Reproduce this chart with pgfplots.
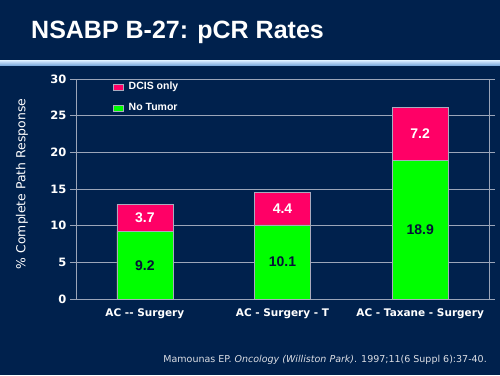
\documentclass[border=0pt]{standalone}
\usepackage{fontspec}
\setmainfont{Liberation Sans}
\newfontfamily\dejavu{DejaVu Sans}
\usepackage{pgfplots}
\pgfplotsset{compat=1.18}
\definecolor{navy}{RGB}{0,33,77}
\definecolor{pinkbar}{RGB}{255,0,102}
\definecolor{greenbar}{RGB}{0,255,0}
\definecolor{gridc}{RGB}{155,165,185}
\definecolor{barline}{RGB}{170,170,190}
\definecolor{darktext}{RGB}{5,18,55}
\definecolor{citec}{RGB}{220,222,228}
\pgfplotsset{sqlegend/.style={legend image code/.code={\draw[#1, draw=barline, line width=0.5pt] (0pt,-3pt) rectangle (10pt,3pt);}}}
\begin{document}
\begin{tikzpicture}
\fill[navy] (0pt,0pt) rectangle (500pt,375pt);
\useasboundingbox (0pt,0pt) rectangle (500pt,375pt);
\shade[top color={rgb,255:red,205;green,228;blue,252}, bottom color={rgb,255:red,110;green,160;blue,215}] (0pt,309pt) rectangle (500pt,314pt);
\node[anchor=base west, font=\bfseries\fontsize{25}{30}\selectfont, text=white, inner sep=0pt] at (31pt,336pt) {NSABP B-27: pCR Rates};
\begin{axis}[
  at={(76pt,76pt)}, anchor=south west,
  scale only axis, width=413pt, height=220pt,
  xmin=-0.5, xmax=2.5, ymin=0, ymax=30,
  ytick={0,5,...,30},
  xtick=\empty,
  minor xtick={-0.5,0.5,1.5,2.5},
  extra x ticks={0,1,2},
  extra x tick labels={AC -- Surgery, AC - Surgery - T, AC - Taxane - Surgery},
  extra x tick style={major tick length=0pt, grid=none},
  ymajorgrids, xmajorgrids=false, xminorgrids=false,
  grid style={gridc, line width=0.7pt},
  axis line style={gridc, line width=0.7pt},
  tick style={gridc, line width=0.7pt},
  tick align=outside,
  major tick length=6pt,
  minor tick length=3pt,
  /pgf/number format/assume math mode=true,
  yticklabel style={font=\dejavu\bfseries\fontsize{11.5}{13}\selectfont, text=white},
  xticklabel style={font=\dejavu\bfseries\fontsize{10.5}{12}\selectfont, text=white, yshift=-6pt},
  ylabel={\% Complete Path Response},
  ylabel style={at={(axis description cs:-0.1308,0.523)}, anchor=center, font=\dejavu\fontsize{12.4}{14}\selectfont, text=white},
  legend style={at={(rel axis cs:0.0896,0.995)}, anchor=north west, draw=none, fill=none, text=white,
    font=\bfseries\fontsize{10.5}{12}\selectfont, inner sep=0pt, row sep=8pt, cells={anchor=west},
    /tikz/every odd column/.append style={column sep=3pt}},
]
\addplot[ybar, bar width=56pt, bar shift=0pt, fill=pinkbar, draw=barline, line width=0.5pt, sqlegend]
  coordinates {(0,12.9) (1,14.5) (2,26.1)};
\addlegendentry{DCIS only}
\addplot[ybar, bar width=56pt, bar shift=0pt, fill=greenbar, draw=barline, line width=0.5pt, sqlegend]
  coordinates {(0,9.2) (1,10.1) (2,18.9)};
\addlegendentry{No Tumor}
\addplot[draw=none, mark=none, forget plot, nodes near coords, point meta=explicit symbolic,
  every node near coord/.append style={anchor=center, font=\bfseries\fontsize{14}{16}\selectfont, text=darktext}]
  coordinates {(0,4.6)[9.2] (1,5.05)[10.1] (2,9.45)[18.9]};
\addplot[draw=none, mark=none, forget plot, nodes near coords, point meta=explicit symbolic,
  every node near coord/.append style={anchor=center, font=\bfseries\fontsize{14}{16}\selectfont, text=white}]
  coordinates {(0,11.05)[3.7] (1,12.3)[4.4] (2,22.5)[7.2]};
\end{axis}
\node[anchor=base east, font=\dejavu\fontsize{9.5}{11}\selectfont, text=citec, inner sep=0pt] at (487pt,12.5pt)
  {Mamounas EP. \textit{Oncology (Williston Park)}. 1997;11(6 Suppl 6):37-40.};
\end{tikzpicture}
\end{document}
